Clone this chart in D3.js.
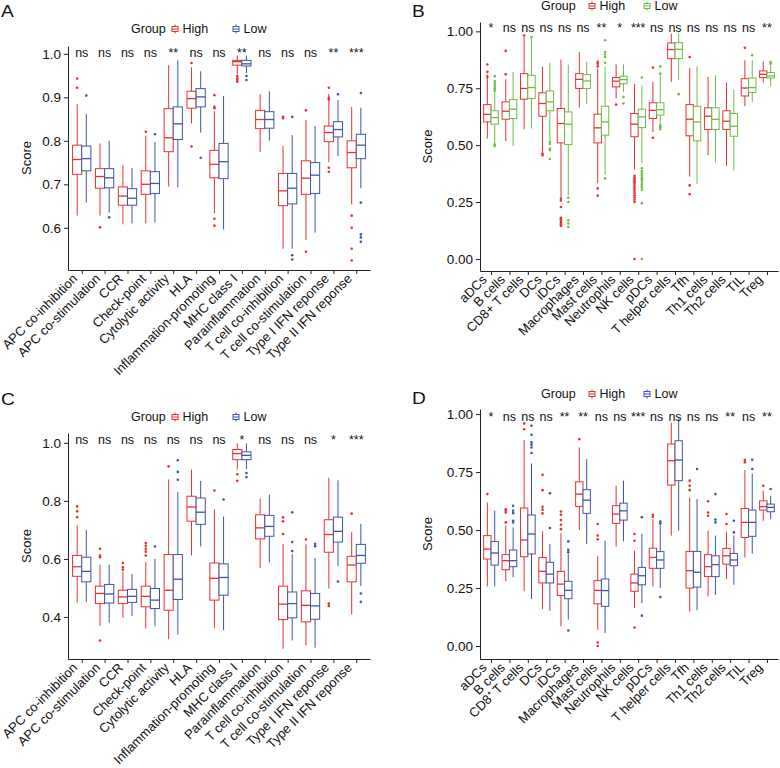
<!DOCTYPE html>
<html><head><meta charset="utf-8">
<script src="https://cdn.jsdelivr.net/npm/d3@7"></script>
<style>
body{margin:0;background:#fff}
svg{display:block}
text{font-family:"Liberation Sans", Arial, Helvetica, sans-serif;fill:#111}
</style>
</head><body>
<svg id="chart" width="780" height="768"></svg>
<script>
// ---------- categories ----------
const catsImmune = ["APC co-inhibition","APC co-stimulation","CCR","Check-point","Cytolytic activity","HLA","Inflammation-promoting","MHC class I","Parainflammation","T cell co-inhibition","T cell co-stimulation","Type I IFN reponse","Type II IFN reponse"];
const catsCellsB = ["aDCs","B cells","CD8+ T cells","DCs","iDCs","Macrophages","Mast cells","Neutrophils","NK cells","pDCs","T helper cells","Tfh","Th1 cells","Th2 cells","TIL","Treg"];
const catsCellsD = ["aDCs","B cells","CD8\u207A T cells","DCs","iDCs","Macrophages","Mast cells","Neutrophils","NK cells","pDCs","T helper cells","Tfh","Th1 cells","Th2 cells","TIL","Treg"];
const groupNames = ["High","Low"];

// ---------- significance labels ----------
const sigA = ["ns","ns","ns","ns","**","ns","ns","**","ns","ns","ns","**","***"];
const sigB = ["*","ns","ns","ns","ns","ns","**","*","***","ns","ns","ns","ns","ns","ns","**"];
const sigC = ["ns","ns","ns","ns","ns","ns","ns","*","ns","ns","ns","*","***"];
const sigD = ["*","ns","ns","ns","**","**","ns","ns","***","ns","ns","ns","ns","**","ns","**"];

// ---------- tick labels ----------
const ticksA = [0.6,0.7,0.8,0.9,1.0];
const ticksB = [0.00,0.25,0.50,0.75,1.00];
const ticksC = [0.4,0.6,0.8,1.0];
const ticksD = [0.00,0.25,0.50,0.75,1.00];

// ---------- box stats: [lower whisker, Q1, median, Q3, upper whisker] ----------
const highA = [
 [0.628,0.723,0.757,0.790,0.885],[0.628,0.691,0.718,0.736,0.794],[0.608,0.652,0.673,0.694,0.744],
 [0.610,0.677,0.700,0.731,0.811],[0.695,0.775,0.807,0.874,0.974],[0.840,0.875,0.897,0.914,0.969],
 [0.633,0.715,0.746,0.778,0.868],[0.953,0.974,0.982,0.985,0.996],[0.774,0.828,0.849,0.870,0.907],
 [0.552,0.651,0.685,0.725,0.788],[0.572,0.677,0.714,0.754,0.848],[0.751,0.798,0.819,0.834,0.908],
 [0.654,0.738,0.773,0.800,0.878]];
const lowA = [
 [0.658,0.731,0.759,0.788,0.862],[0.635,0.692,0.715,0.736,0.800],[0.610,0.652,0.668,0.690,0.738],
 [0.612,0.679,0.702,0.729,0.797],[0.693,0.803,0.839,0.878,0.985],[0.819,0.878,0.901,0.920,0.960],
 [0.596,0.713,0.752,0.794,0.903],[0.956,0.972,0.977,0.985,0.996],[0.800,0.829,0.849,0.867,0.914],
 [0.552,0.655,0.691,0.725,0.813],[0.589,0.679,0.721,0.750,0.834],[0.765,0.809,0.826,0.844,0.894],
 [0.691,0.759,0.790,0.815,0.876]];
const outHighA = [[0.943,0.922],[0.601],[],[0.821],[],[0.979,0.787],[0.905,0.878,0.875,0.621,0.605],
 [0.949,0.944,0.940,0.936],[],[0.855,0.852],[0.870,0.545],[0.922,0.899,0.895,0.738,0.729],[0.628,0.600,0.552,0.525]];
const outLowA = [[0.904],[0.624],[],[0.815],[],[0.761],[],[0.949,0.940],[],[0.855,0.537,0.527],[],[0.907],
 [0.910,0.658,0.585,0.578,0.568]];

const highB = [
 [0.529,0.602,0.635,0.678,0.811],[0.518,0.614,0.649,0.690,0.789],[0.569,0.702,0.749,0.814,0.975],
 [0.471,0.627,0.683,0.730,0.844],[0.272,0.510,0.595,0.661,0.876],[0.665,0.749,0.789,0.814,0.909],
 [0.332,0.510,0.576,0.636,0.836],[0.705,0.756,0.781,0.797,0.855],[0.393,0.537,0.592,0.639,0.768],
 [0.558,0.617,0.653,0.686,0.778],[0.778,0.880,0.920,0.949,0.990],[0.361,0.541,0.614,0.678,0.839],
 [0.456,0.569,0.627,0.664,0.800],[0.408,0.569,0.605,0.651,0.775],[0.671,0.716,0.751,0.792,0.873],
 [0.775,0.797,0.811,0.826,0.868]];
const lowB = [
 [0.507,0.592,0.621,0.651,0.763],[0.496,0.617,0.658,0.700,0.822],[0.573,0.705,0.753,0.807,0.968],
 [0.522,0.651,0.690,0.738,0.861],[0.279,0.503,0.592,0.646,0.854],[0.680,0.749,0.782,0.810,0.866],
 [0.370,0.544,0.602,0.671,0.844],[0.734,0.770,0.788,0.803,0.855],[0.420,0.577,0.624,0.658,0.763],
 [0.595,0.632,0.656,0.686,0.807],[0.785,0.880,0.921,0.950,0.990],[0.329,0.519,0.602,0.671,0.846],
 [0.424,0.569,0.613,0.664,0.807],[0.387,0.539,0.583,0.639,0.744],[0.690,0.731,0.753,0.795,0.873],
 [0.759,0.795,0.804,0.819,0.851]];
const outHighB = [[0.854,0.822,0.800],[0.914,0.811],[0.982],[0.463,0.456],
 [0.265,0.257,0.228,0.181,0.174,0.167,0.159,0.152,0.145],[],[0.866,0.858,0.846,0.310,0.278],[0.678],
 [0.365,0.355,0.345,0.338,0.330,0.320,0.310,0.300,0.290,0.280,0.270,0.260,0.250,0.0],
 [0.841,0.532],[],[0.887,0.323,0.284],[],[],[0.928],[]];
const outLowB = [[0.803,0.780,0.770,0.760,0.750,0.740,0.503,0.496],[],[0.974],[0.515,0.505,0.485,0.478,0.439],
 [0.269,0.250,0.170,0.156,0.140],[],[0.961,0.909,0.898,0.887,0.862,0.354],[0.712,0.683],
 [0.797,0.398,0.385,0.375,0.365,0.355,0.345,0.335,0.325,0.315,0.305,0.245,0.0],
 [0.846,0.814,0.588,0.579,0.570],[0.724],[],[],[],[0.895],[0.865,0.858]];

const highC = [
 [0.450,0.540,0.573,0.612,0.715],[0.369,0.446,0.481,0.506,0.580],[0.397,0.446,0.469,0.492,0.556],
 [0.360,0.435,0.471,0.506,0.589],[0.323,0.423,0.492,0.615,0.874],[0.612,0.730,0.779,0.816,0.908],
 [0.362,0.458,0.533,0.586,0.771],[0.908,0.942,0.963,0.977,0.998],[0.568,0.669,0.707,0.752,0.808],
 [0.290,0.391,0.444,0.506,0.652],[0.302,0.383,0.440,0.490,0.650],[0.498,0.623,0.684,0.735,0.880],
 [0.408,0.521,0.579,0.609,0.692]];
const lowC = [
 [0.452,0.521,0.557,0.606,0.701],[0.380,0.448,0.479,0.512,0.580],[0.403,0.450,0.471,0.495,0.548],
 [0.368,0.429,0.458,0.498,0.600],[0.339,0.460,0.530,0.615,0.831],[0.643,0.719,0.761,0.810,0.869],
 [0.354,0.475,0.536,0.583,0.746],[0.909,0.942,0.957,0.969,0.998],[0.588,0.678,0.712,0.750,0.822],
 [0.319,0.397,0.446,0.486,0.617],[0.294,0.392,0.438,0.481,0.603],[0.575,0.658,0.695,0.744,0.871],
 [0.507,0.585,0.612,0.650,0.721]];
const outHighC = [[0.781,0.764,0.744],[0.635,0.612,0.606,0.319],[0.586,0.571,0.563],[0.655,0.645,0.635,0.625,0.612],
 [0.919],[],[0.836],[0.892,0.869],[],[0.743,0.730,0.686],[0.667],[0.446,0.438],[0.756]];
const outLowC = [[],[],[],[0.643],[0.940,0.900,0.873],[],[0.805],[0.896,0.882],[],[0.761,0.658,0.627],
 [0.652,0.644],[0.522],[0.481,0.452]];

const highD = [
 [0.257,0.375,0.418,0.476,0.619],[0.279,0.329,0.368,0.394,0.519],[0.236,0.385,0.457,0.595,0.888],
 [0.159,0.272,0.322,0.382,0.494],[0.085,0.218,0.267,0.322,0.486],[0.501,0.602,0.655,0.708,0.856],
 [0.070,0.182,0.240,0.282,0.389],[0.428,0.529,0.569,0.605,0.691],[0.164,0.236,0.272,0.310,0.411],
 [0.257,0.335,0.382,0.422,0.547],[0.476,0.694,0.799,0.871,0.964],[0.149,0.250,0.325,0.408,0.640],
 [0.214,0.300,0.342,0.394,0.497],[0.289,0.353,0.389,0.421,0.493],[0.382,0.468,0.533,0.593,0.759],
 [0.540,0.586,0.601,0.626,0.670]];
const lowD = [
 [0.257,0.349,0.401,0.451,0.583],[0.297,0.342,0.368,0.414,0.511],[0.203,0.397,0.483,0.565,0.787],
 [0.152,0.272,0.310,0.361,0.440],[0.114,0.204,0.240,0.279,0.397],[0.440,0.572,0.629,0.674,0.806],
 [0.056,0.171,0.239,0.289,0.454],[0.451,0.543,0.583,0.616,0.713],[0.185,0.264,0.303,0.339,0.483],
 [0.250,0.335,0.371,0.407,0.526],[0.497,0.713,0.802,0.885,0.981],[0.154,0.254,0.318,0.408,0.634],
 [0.221,0.299,0.351,0.389,0.476],[0.264,0.346,0.371,0.399,0.476],[0.399,0.473,0.533,0.586,0.744],
 [0.547,0.579,0.598,0.612,0.648]];
const outHighD = [[0.655],[0.590,0.583,0.576,0.533],[0.960,0.935],[0.738,0.672,0.600,0.588,0.572],
 [0.580,0.566,0.543,0.523,0.504],[0.892],[0.526,0.476,0.460,0.015,0.0],[],[0.483,0.454,0.080],
 [0.566,0.557],[],[0.713,0.691,0.672],[0.624,0.576,0.562],[0.569,0.526],[0.802,0.792],[0.691]];
const outLowD = [[],[0.605,0.583,0.573,0.540,0.533],[0.950,0.911,0.878,0.868,0.856,0.832],[0.659,0.509],
 [0.451,0.415,0.404,0.067],[],[],[],[0.555,0.131],[0.537,0.529,0.211],[],[0.763],[0.655,0.545,0.533],
 [0.540,0.490],[0.803,0.763],[0.677]];

// ---------- styling ----------
const RED = "#E8302F", BLUE = "#3D56A6", GREEN = "#6CBD45";
const svg = d3.select("#chart");

function drawPanel(cfg) {
  const g = svg.append("g");
  const x = d3.scalePoint().domain(cfg.cats).range([cfg.left, cfg.right]).padding(0.6);
  const step = x.step();
  const y = d3.scaleLinear().domain(cfg.domain).range([cfg.bottom, cfg.top]);

  // panel letter
  g.append("text").attr("transform", `translate(${cfg.letterX},${cfg.letterY}) scale(1.2,1)`)
    .attr("font-size", 16).text(cfg.letter);

  // legend
  const lg = g.append("g").attr("transform", `translate(${cfg.legendX},${cfg.legendY})`);
  lg.append("text").attr("x", 0).attr("y", 0).attr("dy", "0.35em").attr("font-size", 12.5).text("Group");
  const keyCol = [RED, cfg.lowColor];
  groupNames.forEach((nm, k) => {
    const kg = lg.append("g").attr("transform", `translate(${cfg.keyX[k]},0)`);
    kg.append("line").attr("x1", 0).attr("x2", 0).attr("y1", -4.5).attr("y2", 4.5).attr("stroke", keyCol[k]).attr("stroke-width", 1);
    kg.append("rect").attr("x", -3).attr("y", -2.5).attr("width", 6).attr("height", 5)
      .attr("fill", "#fff").attr("stroke", keyCol[k]).attr("stroke-width", 1);
    kg.append("line").attr("x1", -3).attr("x2", 3).attr("y1", 0).attr("y2", 0).attr("stroke", keyCol[k]).attr("stroke-width", 1);
    kg.append("text").attr("x", 7.5).attr("y", 0).attr("dy", "0.35em").attr("font-size", 12.5).text(nm);
  });

  // axes
  const ya = g.append("g").attr("transform", `translate(${cfg.left},0)`)
    .call(d3.axisLeft(y).tickValues(cfg.ticks).tickSize(4).tickSizeOuter(0).tickFormat(d3.format(cfg.fmt)));
  ya.selectAll("text").attr("font-size", 13.5).attr("font-family", "DejaVu Sans, Liberation Sans, sans-serif").attr("fill", "#111");
  ya.selectAll("line,path").attr("stroke", "#222");
  const xa = g.append("g").attr("transform", `translate(0,${cfg.bottom})`)
    .call(d3.axisBottom(x).tickSize(4).tickSizeOuter(0));
  xa.selectAll("line,path").attr("stroke", "#222");
  xa.selectAll("text").remove();
  g.append("g").selectAll("text").data(cfg.cats).join("text")
    .attr("transform", d => `translate(${x(d) - 3.5},${cfg.bottom + 9.5}) rotate(-45)`)
    .attr("text-anchor", "end").attr("font-size", 13).text(d => d);

  g.append("text").attr("transform", `translate(${cfg.scoreX},${(cfg.top + cfg.bottom) / 2}) rotate(-90)`)
    .attr("text-anchor", "middle").attr("font-size", 13).text("Score");

  // boxes
  const groups = [
    {color: RED, data: cfg.high, out: cfg.outHigh, off: -0.2},
    {color: cfg.lowColor, data: cfg.low, out: cfg.outLow, off: 0.2}
  ];
  const w = 0.4 * step;
  groups.forEach(gr => {
    const items = cfg.cats.map((c, i) => ({cx: x(c) + gr.off * step, s: gr.data[i], o: gr.out[i]}));
    const bg = g.append("g").attr("stroke", gr.color).attr("fill", "none").attr("stroke-width", 1);
    bg.selectAll(".wu").data(items).join("line").attr("class", "wu").attr("x1", d => d.cx).attr("x2", d => d.cx)
      .attr("y1", d => y(d.s[4])).attr("y2", d => y(d.s[3]));
    bg.selectAll(".wl").data(items).join("line").attr("class", "wl").attr("x1", d => d.cx).attr("x2", d => d.cx)
      .attr("y1", d => y(d.s[1])).attr("y2", d => y(d.s[0]));
    bg.selectAll("rect").data(items).join("rect").attr("x", d => d.cx - w / 2).attr("width", w)
      .attr("y", d => y(d.s[3])).attr("height", d => y(d.s[1]) - y(d.s[3])).attr("fill", "#fff");
    bg.selectAll(".md").data(items).join("line").attr("class", "md").attr("x1", d => d.cx - w / 2).attr("x2", d => d.cx + w / 2)
      .attr("y1", d => y(d.s[2])).attr("y2", d => y(d.s[2])).attr("stroke-width", 1.3);
    const pts = items.flatMap(d => d.o.map(v => ({cx: d.cx, v})));
    g.append("g").selectAll("circle").data(pts).join("circle").attr("cx", d => d.cx).attr("cy", d => y(d.v))
      .attr("r", 1.3).attr("fill", gr.color);
  });

  // significance labels
  g.append("g").selectAll("text").data(cfg.cats).join("text")
    .attr("x", d => x(d)).attr("y", cfg.top + cfg.sigDy).attr("text-anchor", "middle")
    .attr("font-size", 12.5).text((d, i) => cfg.sig[i]);
}

drawPanel({letter: "A", letterX: 1, letterY: 16.5, cats: catsImmune, sig: sigA, high: highA, low: lowA,
  outHigh: outHighA, outLow: outLowA, lowColor: BLUE, domain: [0.503, 1.018], ticks: ticksA, fmt: ".1f",
  left: 68, right: 370, top: 46, bottom: 270, sigDy: 11, legendX: 131, legendY: 29, keyX: [44, 105], scoreX: 31});
drawPanel({letter: "B", letterX: 412, letterY: 17, cats: catsCellsB, sig: sigB, high: highB, low: lowB,
  outHigh: outHighB, outLow: outLowB, lowColor: GREEN, domain: [-0.053, 1.041], ticks: ticksB, fmt: ".2f",
  left: 480, right: 778, top: 22, bottom: 271, sigDy: 10, legendX: 541, legendY: 6, keyX: [51, 106], scoreX: 432});
drawPanel({letter: "C", letterX: 1, letterY: 405, cats: catsImmune, sig: sigC, high: highC, low: lowC,
  outHigh: outHighC, outLow: outLowC, lowColor: BLUE, domain: [0.255, 1.034], ticks: ticksC, fmt: ".1f",
  left: 68, right: 370, top: 433, bottom: 659, sigDy: 11, legendX: 131, legendY: 417, keyX: [44, 105], scoreX: 31});
drawPanel({letter: "D", letterX: 412, letterY: 404, cats: catsCellsD, sig: sigD, high: highD, low: lowD,
  outHigh: outHighD, outLow: outLowD, lowColor: BLUE, domain: [-0.056, 1.022], ticks: ticksD, fmt: ".2f",
  left: 480, right: 778, top: 409, bottom: 659, sigDy: 12, legendX: 541, legendY: 394, keyX: [51, 106], scoreX: 432});
</script>
</body></html>
